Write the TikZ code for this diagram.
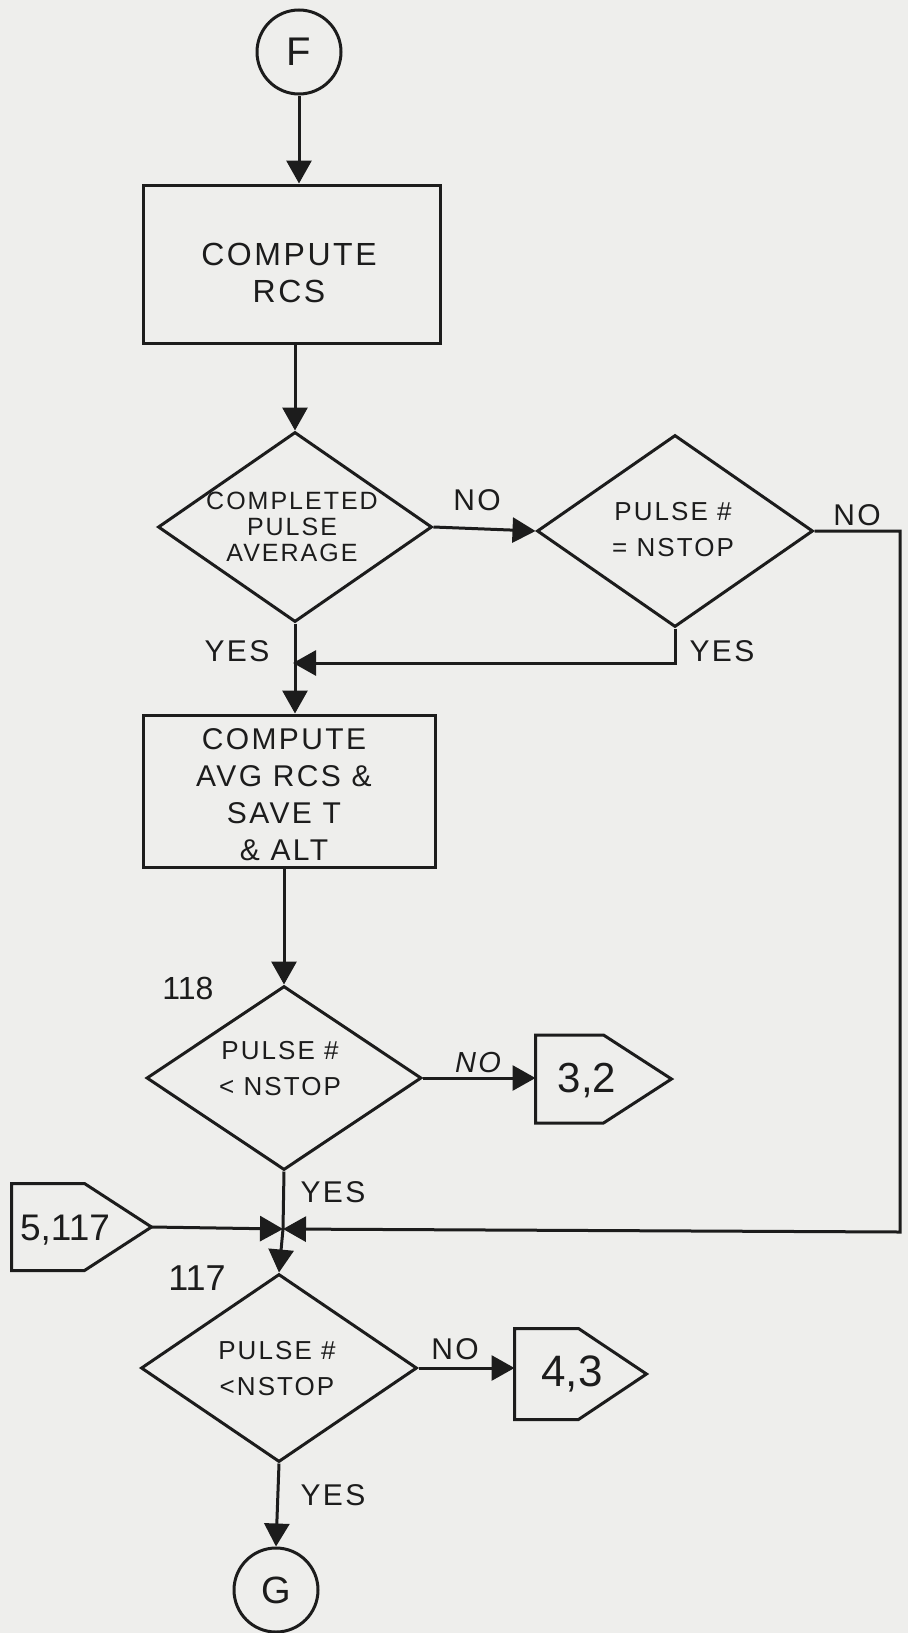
\documentclass[tikz,border=0pt]{standalone}
\usepackage{fontspec}
\setmainfont{Liberation Sans}
\newfontfamily\hand[LetterSpace=8]{Liberation Sans}
\usetikzlibrary{arrows.meta,shapes.geometric,calc}
\definecolor{paper}{RGB}{238,238,236}
\definecolor{ink}{RGB}{28,28,28}
\begin{document}
\begin{tikzpicture}[x=1pt,y=-1pt,line width=3pt,color=ink,
  arr/.style={-{Triangle[length=23pt,width=25pt]}},
  box/.style={draw,rectangle,inner sep=0pt},
  dia/.style={draw,diamond,inner sep=0pt},
  conn/.style={draw,circle,minimum size=84pt,inner sep=0pt,font=\fontsize{40}{40}\selectfont},
  txt/.style={align=center,inner sep=0pt},
  dtxt/.style={txt,font=\hand\fontsize{26}{36}\selectfont},
  lbl/.style={inner sep=0pt,font=\hand\fontsize{30}{30}\selectfont},
  num/.style={inner sep=0pt,font=\fontsize{34}{34}\selectfont},
  pent/.style={inner sep=0pt},
  ptxt/.style={inner sep=0pt,font=\fontsize{42}{42}\selectfont}]
\fill[paper] (0,0) rectangle (908,1633);
\useasboundingbox (0,0) rectangle (908,1633);

% nodes
\node[conn] (F) at (299,52) {F};
\node[box,minimum width=297pt,minimum height=158pt] (b1) at (291.5,264) {};
\node[txt,font=\hand\fontsize{32}{37}\selectfont] (b1t) at (289,273) {COMPUTE\\RCS};

\node[dia,minimum width=274pt,minimum height=190pt] (d1) at (295,527) {};
\node[txt,font=\hand\fontsize{25}{26}\selectfont] (d1t) at (292,527) {COMPLETED\\PULSE\\AVERAGE};

\node[dia,minimum width=276pt,minimum height=192pt] (d2) at (675,531) {};
\node[dtxt] (d2t) at (673,530) {PULSE \#\\= NSTOP};

\node[box,minimum width=292pt,minimum height=152pt] (b2) at (289,791) {};
\node[txt,font=\hand\fontsize{30}{37}\selectfont] (b2t) at (284,795) {COMPUTE\\AVG RCS \&\\SAVE T\\\& ALT};

\node[dia,minimum width=275pt,minimum height=184pt] (d3) at (284,1078) {};
\node[dtxt] (d3t) at (280,1069) {PULSE \#\\< NSTOP};

\node[dia,minimum width=276pt,minimum height=188pt] (d4) at (279,1368) {};
\node[dtxt] (d4t) at (277,1369) {PULSE \#\\<NSTOP};

\node[conn,font=\fontsize{38}{38}\selectfont] (G) at (276,1590) {G};

% off-page connectors (pentagons)
\node[pent,minimum width=133pt,minimum height=85pt] (p32) at (603.5,1079) {};
\draw[line join=miter] (p32.north west) -- ([xshift=-68pt]p32.north east) -- (p32.east) -- ([xshift=-68pt]p32.south east) -- (p32.south west) -- cycle;
\node[ptxt] (p32t) at (587,1081) {3,2};

\node[pent,minimum width=137pt,minimum height=84pt] (p5) at (81.5,1227) {};
\draw[line join=miter] (p5.north west) -- ([xshift=-67pt]p5.north east) -- (p5.east) -- ([xshift=-67pt]p5.south east) -- (p5.south west) -- cycle;
\node[ptxt,font=\fontsize{37}{37}\selectfont] (p5t) at (65,1230) {5,117};

\node[pent,minimum width=129pt,minimum height=88pt] (p43) at (580.5,1374) {};
\draw[line join=miter] (p43.north west) -- ([xshift=-68pt]p43.north east) -- (p43.east) -- ([xshift=-68pt]p43.south east) -- (p43.south west) -- cycle;
\node[ptxt,font=\fontsize{44}{44}\selectfont] (p43t) at (572,1374) {4,3};

% junctions
\coordinate (m1) at (293,663);
\coordinate (j) at (283,1229);
\coordinate (rb) at (900,1232);

% connectors
\draw[arr] (F.south) -- (F.south |- b1.north);
\draw[arr] (d1.north |- b1.south) -- (d1.north);
\draw[arr] (d1.east) -- (d2.west);
\draw[arr] (d2.east) -| (rb) -- (j);
\draw[arr] (d2.south) |- (m1);
\draw[arr] (d1.south) -- (d1.south |- b2.north);
\draw[arr] (d3.north |- b2.south) -- (d3.north);
\draw[arr] (d3.east) -- (d3.east -| p32.west);
\draw (d3.south) -- (j);
\draw[arr] (p5.east) -- (j);
\draw[arr] (j) -- (d4.north);
\draw[arr] (d4.east) -- (d4.east -| p43.west);
\draw[arr] (d4.south) -- (G.north);

% labels
\node[lbl] (no1) at (477,500) {NO};
\node[lbl] (no2) at (857,515) {NO};
\node[lbl] (yes2) at (722,651) {YES};
\node[lbl] (yes1) at (237,651) {YES};
\node[num,font=\fontsize{32}{32}\selectfont] (n118) at (188,988) {118};
\node[lbl,font=\hand\itshape\fontsize{29}{29}\selectfont] (no3) at (478,1063) {NO};
\node[lbl] (yes3) at (333,1192) {YES};
\node[num,font=\fontsize{36}{36}\selectfont] (n117) at (197,1278) {117};
\node[lbl] (no4) at (455,1349) {NO};
\node[lbl] (yes4) at (333,1495) {YES};
\end{tikzpicture}
\end{document}
